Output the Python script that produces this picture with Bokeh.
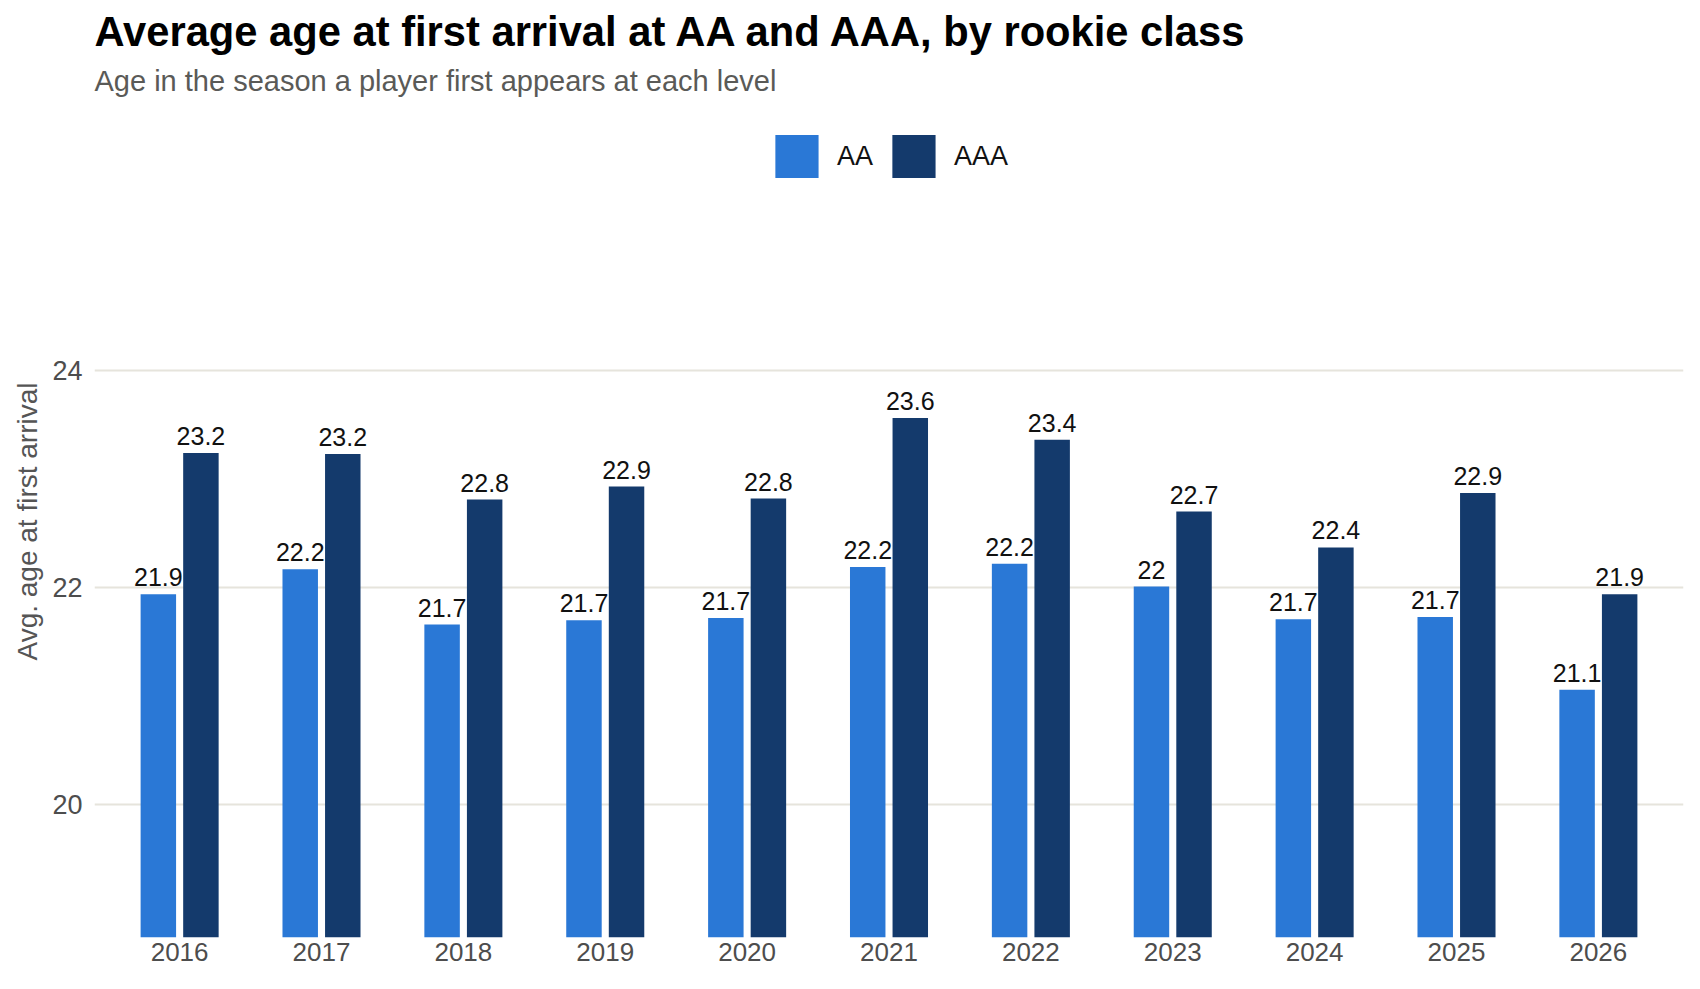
from bokeh.plotting import figure
from bokeh.models import (FactorRange, Range1d, FixedTicker, Title, Legend, LegendItem,
                          ColumnDataSource)
from bokeh.core.properties import value
from bokeh.transform import dodge
from bokeh.embed import file_html
from bokeh.resources import INLINE

years = ["2016", "2017", "2018", "2019", "2020", "2021", "2022", "2023", "2024", "2025", "2026"]
aa_age = [21.94, 22.17, 21.66, 21.70, 21.72, 22.19, 22.22, 22.01, 21.71, 21.73, 21.06]
aaa_age = [23.24, 23.23, 22.81, 22.93, 22.82, 23.56, 23.36, 22.70, 22.37, 22.87, 21.94]
y_ticks = [20, 22, 24]
series_names = ["AA", "AAA"]
series_colors = ["#2A78D6", "#143A6C"]

title_text = "Average age at first arrival at AA and AAA, by rookie class"
subtitle_text = "Age in the season a player first appears at each level"
y_label = "Avg. age at first arrival"

FONT = "Liberation Sans"
Y_START, Y_END = 18.78, 26.437


def fmt(v):
    return f"{round(v, 1):g}"


src = ColumnDataSource(dict(
    year=years,
    aa=aa_age,
    aaa=aaa_age,
    aa_lab=[fmt(v) for v in aa_age],
    aaa_lab=[fmt(v) for v in aaa_age],
))

p = figure(
    width=1684, height=973,
    x_range=FactorRange(factors=years, range_padding=0.1, range_padding_units="absolute"),
    y_range=Range1d(Y_START, Y_END),
    output_backend="svg", toolbar_location=None, title=None,
    min_border_left=94, min_border_right=1, min_border_bottom=36, min_border_top=105,
)
p.outline_line_color = None
p.background_fill_color = "white"
p.border_fill_color = "white"

r_aa = p.vbar(x=dodge("year", -0.15, range=p.x_range), top="aa", bottom=Y_START, width=0.25,
              source=src, fill_color=series_colors[0], line_color=None)
r_aaa = p.vbar(x=dodge("year", 0.15, range=p.x_range), top="aaa", bottom=Y_START, width=0.25,
               source=src, fill_color=series_colors[1], line_color=None)

for col, lab, off in (("aa", "aa_lab", -0.15), ("aaa", "aaa_lab", 0.15)):
    p.text(x=dodge("year", off, range=p.x_range), y=col, text=lab, source=src,
           text_align="center", text_baseline="alphabetic", y_offset=-17,
           text_font_size="25px", text_color="#111111", text_font=value(FONT))

# x axis
p.xaxis.major_tick_line_color = None
p.xaxis.minor_tick_line_color = None
p.xaxis.axis_line_color = None
p.xaxis.major_label_text_font_size = "26px"
p.xaxis.major_label_text_color = "#4d4d4d"
p.xaxis.major_label_text_font = FONT
p.xaxis.major_label_standoff = 5
p.xaxis.major_tick_out = 0
p.xaxis.major_tick_in = 0

# y axis
p.yaxis.ticker = FixedTicker(ticks=y_ticks)
p.yaxis.major_tick_line_color = None
p.yaxis.minor_tick_line_color = None
p.yaxis.axis_line_color = None
p.yaxis.major_tick_out = 0
p.yaxis.major_tick_in = 0
p.yaxis.major_label_text_font_size = "27px"
p.yaxis.major_label_text_color = "#4d4d4d"
p.yaxis.major_label_text_font = FONT
p.yaxis.major_label_standoff = 12
p.yaxis.axis_label = y_label
p.yaxis.axis_label_text_font = FONT
p.yaxis.axis_label_text_font_style = "normal"
p.yaxis.axis_label_text_font_size = "28px"
p.yaxis.axis_label_text_color = "#555555"
p.yaxis.axis_label_standoff = 6

p.xgrid.grid_line_color = None
p.ygrid.grid_line_color = "#E6E4DC"
p.ygrid.grid_line_width = 2

# legend inside the plot area, centred at the top
legend = Legend(
    items=[LegendItem(label=series_names[0], renderers=[r_aa]),
           LegendItem(label=series_names[1], renderers=[r_aaa])],
    orientation="horizontal", location="top_center",
    border_line_color=None, background_fill_alpha=0,
    glyph_width=54, glyph_height=54, label_standoff=14, spacing=13,
    padding=0, margin=24,
    label_text_font=FONT, label_text_font_size="27px", label_text_color="#111111",
)
p.add_layout(legend)

# titles above the plot (first added = closest to the plot area)
p.add_layout(Title(text=subtitle_text, text_font=FONT, text_font_size="29px",
                   text_font_style="normal", text_color="#5a5a57", align="left",
                   standoff=17), "above")
p.add_layout(Title(text=title_text, text_font=FONT, text_font_size="41.7px",
                   text_font_style="bold", text_color="#000000", align="left",
                   standoff=0), "above")

open("out.html", "w").write(file_html(p, INLINE))
